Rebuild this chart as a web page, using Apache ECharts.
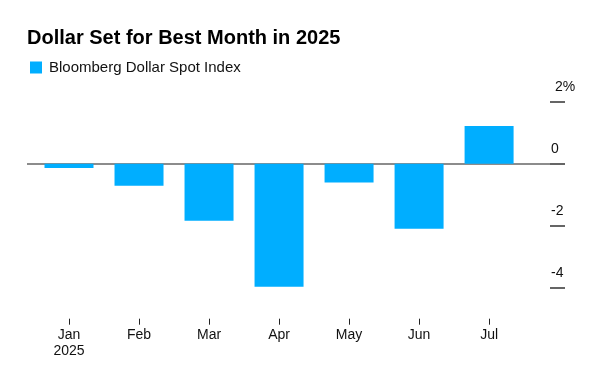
<!DOCTYPE html>
<html>
<head>
<meta charset="utf-8">
<script src="https://cdn.jsdelivr.net/npm/echarts@6/dist/echarts.min.js"></script>
<style>
  html, body { margin: 0; padding: 0; background: #fff; }
  #chart { width: 590px; height: 377px; }
</style>
</head>
<body>
<div id="chart"></div>
<script>
// monthly change of the index, %
const months = ["Jan", "Feb", "Mar", "Apr", "May", "Jun", "Jul"];
const changes = [-0.14, -0.71, -1.84, -3.97, -0.61, -2.10, 1.22];
const yTicks = [-4, -2, 0, 2];
const monthIdx = months.map((m, i) => i);

const chart = echarts.init(document.getElementById("chart"));
const font = "'Liberation Sans', Arial, sans-serif";

const option = {
  animation: false,
  textStyle: { fontFamily: font },
  title: {
    text: "Dollar Set for Best Month in 2025",
    left: 27,
    top: 28,
    padding: 0,
    textStyle: { fontSize: 20, fontWeight: "bold", color: "#000", fontFamily: font },
  },
  legend: {
    left: 30,
    top: 60,
    padding: 0,
    icon: "rect",
    itemWidth: 12,
    itemHeight: 12,
    itemGap: 5,
    textStyle: { fontSize: 15, color: "#111", fontFamily: font, padding: [0, 0, 0, 2] },
    data: ["Bloomberg Dollar Spot Index"],
  },
  grid: {
    left: 27,
    right: 40,
    top: 89.3,
    bottom: 58.3,
  },
  xAxis: {
    type: "value",
    min: -0.6,
    max: 6.87,
    position: "bottom",
    axisLine: { show: false, onZero: false },
    splitLine: { show: false },
    axisTick: {
      show: true,
      length: 6,
      customValues: monthIdx,
      lineStyle: { color: "#222", width: 1 },
    },
    axisLabel: {
      customValues: monthIdx,
      margin: 8,
      fontSize: 14,
      lineHeight: 16,
      color: "#111",
      fontFamily: font,
      formatter: (v) => {
        const i = Math.round(v);
        return i === 0 ? months[i] + "\n2025" : months[i];
      },
    },
  },
  yAxis: {
    type: "value",
    position: "right",
    min: -5,
    max: 2.4,
    axisLine: { show: false, onZero: false },
    splitLine: { show: false },
    axisTick: {
      show: true,
      inside: false,
      length: 15,
      customValues: yTicks,
      lineStyle: { color: "#333", width: 1.5 },
    },
    axisLabel: {
      customValues: yTicks,
      margin: 1,
      fontSize: 14,
      color: "#111",
      fontFamily: font,
      verticalAlign: "bottom",
      padding: [0, 0, 8, 0],
      formatter: (v) => (v === 2 ? "{p|2%}" : String(v)),
      rich: {
        p: { fontSize: 14, color: "#111", fontFamily: font, padding: [0, 0, 0, 4] },
      },
    },
  },
  series: [
    {
      name: "Bloomberg Dollar Spot Index",
      type: "bar",
      barWidth: 49,
      itemStyle: { color: "#00aeff" },
      data: changes.map((v, i) => [i, v]),
      markLine: {
        silent: true,
        symbol: "none",
        label: { show: false },
        lineStyle: { color: "#8c8c8c", width: 2, type: "solid" },
        data: [{ yAxis: 0 }],
        z: 1,
      },
    },
  ],
};

chart.setOption(option);
</script>
</body>
</html>
